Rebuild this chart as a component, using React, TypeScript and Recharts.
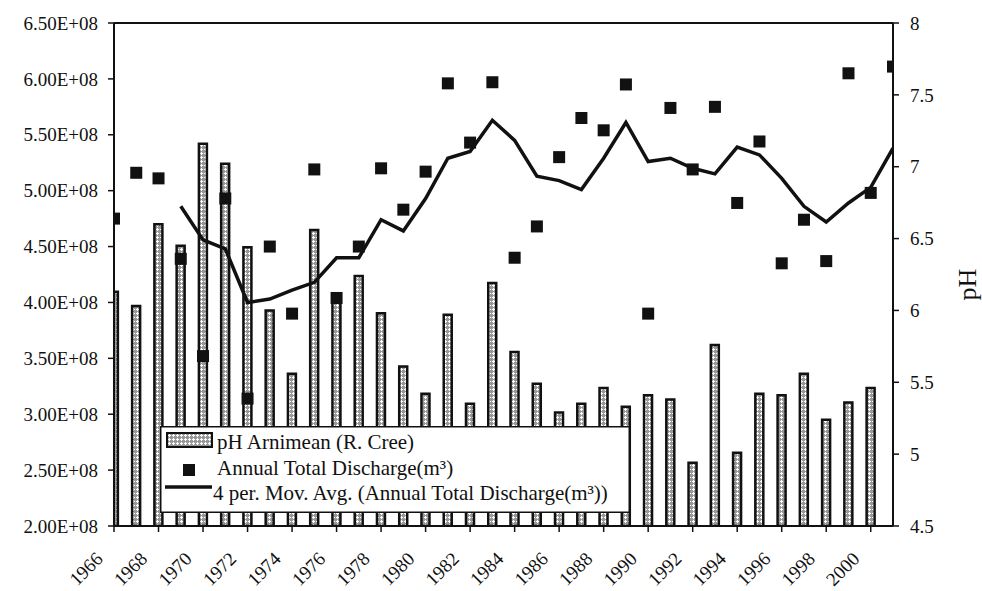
import React from 'react';
import { ComposedChart, Bar, Line, XAxis, YAxis, ReferenceLine, Legend } from 'recharts';

const years = [1966, 1967, 1968, 1969, 1970, 1971, 1972, 1973, 1974, 1975, 1976, 1977, 1978, 1979, 1980, 1981, 1982, 1983, 1984, 1985, 1986, 1987, 1988, 1989, 1990, 1991, 1992, 1993, 1994, 1995, 1996, 1997, 1998, 1999, 2000, 2001];

const phMean: (number | null)[] = [6.13, 6.03, 6.6, 6.45, 7.16, 7.02, 6.44, 6.0, 5.56, 6.56, 6.1, 6.24, 5.98, 5.61, 5.42, 5.97, 5.35, 6.19, 5.71, 5.49, 5.29, 5.35, 5.46, 5.33, 5.41, 5.38, 4.94, 5.76, 5.01, 5.42, 5.41, 5.56, 5.24, 5.36, 5.46, null];

const discharge = [4.75e8, 5.16e8, 5.11e8, 4.39e8, 3.52e8, 4.93e8, 3.14e8, 4.5e8, 3.9e8, 5.19e8, 4.04e8, 4.5e8, 5.2e8, 4.83e8, 5.17e8, 5.96e8, 5.43e8, 5.97e8, 4.4e8, 4.68e8, 5.3e8, 5.65e8, 5.54e8, 5.95e8, 3.9e8, 5.74e8, 5.19e8, 5.75e8, 4.89e8, 5.44e8, 4.35e8, 4.74e8, 4.37e8, 6.05e8, 4.98e8, 6.11e8];

const movAvg: (number | null)[] = [null, null, null, 4.86e8, 4.56e8, 4.48e8, 4.0e8, 4.03e8, 4.11e8, 4.18e8, 4.4e8, 4.4e8, 4.74e8, 4.64e8, 4.93e8, 5.29e8, 5.35e8, 5.63e8, 5.45e8, 5.13e8, 5.09e8, 5.01e8, 5.29e8, 5.61e8, 5.26e8, 5.29e8, 5.2e8, 5.15e8, 5.39e8, 5.32e8, 5.11e8, 4.86e8, 4.72e8, 4.89e8, 5.03e8, 5.38e8];

const xTicks = [1966, 1968, 1970, 1972, 1974, 1976, 1978, 1980, 1982, 1984, 1986, 1988, 1990, 1992, 1994, 1996, 1998, 2000];
const leftTicks = [2.0e8, 2.5e8, 3.0e8, 3.5e8, 4.0e8, 4.5e8, 5.0e8, 5.5e8, 6.0e8, 6.5e8];
const rightTicks = [4.5, 5, 5.5, 6, 6.5, 7, 7.5, 8];

const seriesNames = ['pH Arnimean (R. Cree)', 'Annual Total Discharge(m\u00b3)', '4 per. Mov. Avg. (Annual Total Discharge(m\u00b3))'];

const data = years.map((year, i) => ({
  year,
  ph: phMean[i],
  discharge: discharge[i],
  movAvg: movAvg[i],
}));

const FONT = '"Liberation Serif", "Times New Roman", serif';
const INK = '#111';
const TICK_FS = 19;

const fmtLeft = (v: number) => `${(v / 1e8).toFixed(2)}E+08`;

const XTick = (props: any) => {
  const { x, y, payload } = props;
  const ax = x - 10;
  const ay = y + 26;
  return (
    <text x={ax} y={ay} textAnchor="end" transform={`rotate(-45 ${ax} ${ay})`} fontFamily={FONT} fontSize={TICK_FS} fill={INK}>
      {payload.value}
    </text>
  );
};

const LeftTick = (props: any) => {
  const { x, y, payload } = props;
  return (
    <text x={x} y={y} dy="0.35em" textAnchor="end" fontFamily={FONT} fontSize={TICK_FS} fill={INK}>
      {fmtLeft(payload.value)}
    </text>
  );
};

const RightTick = (props: any) => {
  const { x, y, payload } = props;
  return (
    <text x={x} y={y} dy="0.35em" textAnchor="start" fontFamily={FONT} fontSize={TICK_FS} fill={INK}>
      {String(payload.value)}
    </text>
  );
};

const SquareDot = (props: any) => {
  const { cx, cy, index } = props;
  if (cx == null || cy == null || Number.isNaN(cy)) return <g key={`sq-${index}`} />;
  return <rect key={`sq-${index}`} x={cx - 6} y={cy - 6} width={12} height={12} fill={INK} />;
};

const PatternDef = ({ id }: { id: string }) => (
  <pattern id={id} width={4} height={4} patternUnits="userSpaceOnUse">
    <rect width={4} height={4} fill="#999" />
    <rect x={1} y={0} width={1} height={3} fill="#fff" />
    <rect x={0} y={1} width={3} height={1} fill="#fff" />
  </pattern>
);

const LegendBox = () => (
  <svg width={470} height={87} style={{ display: 'block' }}>
    <defs>
      <PatternDef id="phPatternLegend" />
    </defs>
    <rect x={0.75} y={0.75} width={468.5} height={85.5} fill="#fff" stroke={INK} strokeWidth={1.5} />
    <rect x={7} y={7} width={45} height={14} fill="url(#phPatternLegend)" stroke={INK} strokeWidth={2} />
    <text x={57} y={23} fontFamily={FONT} fontSize={21} fill={INK}>{seriesNames[0]}</text>
    <rect x={23} y={38} width={12} height={12} fill={INK} />
    <text x={57} y={49} fontFamily={FONT} fontSize={21} fill={INK}>{seriesNames[1]}</text>
    <line x1={5} x2={52} y1={61} y2={61} stroke={INK} strokeWidth={3.5} />
    <text x={53} y={74} fontFamily={FONT} fontSize={21} fill={INK}>{seriesNames[2]}</text>
  </svg>
);

const PhLabel = (props: any) => {
  const vb = props.viewBox || { x: 893, y: 23, width: 89, height: 503 };
  const lx = vb.x + 83;
  const ly = vb.y + vb.height / 2 + 10;
  return (
    <text x={lx} y={ly} textAnchor="middle" transform={`rotate(-90 ${lx} ${ly})`} fontFamily={FONT} fontSize={26} fill={INK}>
      pH
    </text>
  );
};

export default function App() {
  return (
    <div style={{ position: 'absolute', left: 0, top: 0, width: 982, height: 591, background: '#fff' }}>
      <ComposedChart width={982} height={591} data={data} margin={{ top: 23, right: 0, bottom: 0, left: 0 }}>
        <defs>
          <PatternDef id="phPattern" />
        </defs>
        <XAxis
          dataKey="year"
          type="number"
          domain={[1966, 2001]}
          ticks={xTicks}
          interval={0}
          height={65}
          tickSize={6}
          tick={<XTick />}
          axisLine={{ stroke: INK, strokeWidth: 2 }}
          tickLine={{ stroke: INK, strokeWidth: 1.5 }}
          allowDataOverflow
        />
        <YAxis
          yAxisId="left"
          orientation="left"
          type="number"
          domain={[2.0e8, 6.5e8]}
          ticks={leftTicks}
          interval={0}
          width={114}
          tickSize={6}
          tickMargin={10}
          tick={<LeftTick />}
          axisLine={{ stroke: INK, strokeWidth: 2 }}
          tickLine={{ stroke: INK, strokeWidth: 1.5 }}
        />
        <YAxis
          yAxisId="right"
          orientation="right"
          type="number"
          domain={[4.5, 8]}
          ticks={rightTicks}
          interval={0}
          width={89}
          tickSize={6}
          tickMargin={11}
          allowDataOverflow
          tick={<RightTick />}
          axisLine={{ stroke: INK, strokeWidth: 2 }}
          tickLine={{ stroke: INK, strokeWidth: 1.5 }}
          label={<PhLabel />}
        />
        <ReferenceLine yAxisId="left" y={6.5e8} stroke={INK} strokeWidth={2} ifOverflow="extendDomain" />
        <Bar
          yAxisId="right"
          dataKey="ph"
          name={seriesNames[0]}
          barSize={8}
          fill="url(#phPattern)"
          stroke={INK}
          strokeWidth={2.5}
          isAnimationActive={false}
        />
        <Line
          yAxisId="left"
          dataKey="movAvg"
          name={seriesNames[2]}
          type="linear"
          stroke={INK}
          strokeWidth={3.5}
          dot={false}
          activeDot={false}
          isAnimationActive={false}
        />
        <Line
          yAxisId="left"
          dataKey="discharge"
          name={seriesNames[1]}
          stroke="none"
          dot={<SquareDot />}
          activeDot={false}
          isAnimationActive={false}
        />
        <Legend
          layout="horizontal"
          verticalAlign="middle"
          align="center"
          width={470}
          height={87}
          wrapperStyle={{ left: 160, top: 426, width: 470, height: 87 }}
          content={() => <LegendBox />}
        />
      </ComposedChart>
    </div>
  );
}
